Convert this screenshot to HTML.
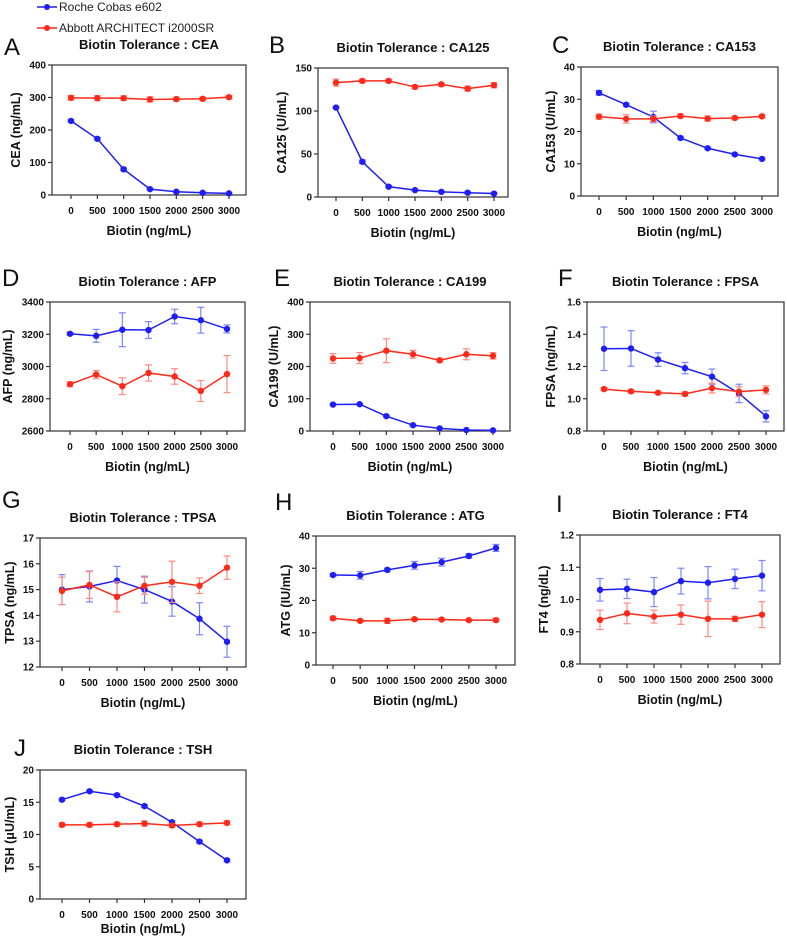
<!DOCTYPE html>
<html><head><meta charset="utf-8"><style>
body{margin:0;background:#fff;}
svg{display:block;font-family:"Liberation Sans",Arial,sans-serif;}
</style></head><body>
<svg id="fig" width="787" height="937" viewBox="0 0 787 937" xmlns="http://www.w3.org/2000/svg">
<g>
 <g>
  <line x1="37" y1="7" x2="57" y2="7" stroke="#1f1ff5" stroke-width="1.5"/><circle cx="47" cy="7" r="3" fill="#1f1ff5"/>
  <text x="59" y="11" font-size="12" fill="#222">Roche Cobas e602</text>
 </g>
 <g>
  <line x1="37" y1="28" x2="57" y2="28" stroke="#ff2a1a" stroke-width="1.5"/><circle cx="47" cy="28" r="3" fill="#ff2a1a"/>
  <text x="59" y="32" font-size="12" fill="#222">Abbott  ARCHITECT i2000SR</text>
 </g>
</g>
</svg>
<script>
const xCats=[0,500,1000,1500,2000,2500,3000];
const aBlue=[228,173,79,18,10,7,5], aBlueErr=[3,4,4,2,2,1,1];
const aRed=[299,298,298,294,295,296,301], aRedErr=[7,8,7,8,6,5,5];
const bBlue=[104,41,12,8,6,5,4], bBlueErr=[1,2,1,1,1,1,1];
const bRed=[133,135,135,128,131,126,130], bRedErr=[4,2,2,2,2,3,3];
const cBlue=[32,28.3,24.5,18,14.8,12.9,11.5], cBlueErr=[0.7,0.4,1.8,0.4,0.3,0.3,0.3];
const cRed=[24.6,23.9,23.9,24.8,24,24.2,24.7], cRedErr=[0.8,1.3,0.9,0.6,0.8,0.5,0.5];
const dBlue=[3203,3190,3228,3226,3310,3287,3233], dBlueErr=[8,40,105,52,45,80,25];
const dRed=[2890,2950,2878,2960,2938,2848,2953], dRedErr=[15,25,52,50,48,65,115];
const eBlue=[82,83,46,18,8,3,2], eBlueErr=[2,2,2,2,1,1,1];
const eRed=[225,226,249,238,219,238,233], eRedErr=[15,17,37,12,6,17,10];
const fBlue=[1.31,1.312,1.243,1.19,1.137,1.033,0.891], fBlueErr=[0.135,0.11,0.042,0.035,0.047,0.057,0.035];
const fRed=[1.06,1.046,1.037,1.03,1.066,1.044,1.055], fRedErr=[0.008,0.008,0.008,0.012,0.03,0.03,0.025];
const gBlue=[15.0,15.12,15.35,15.0,14.54,13.87,12.98], gBlueErr=[0.58,0.6,0.55,0.52,0.57,0.62,0.6];
const gRed=[14.95,15.18,14.72,15.15,15.3,15.15,15.85], gRedErr=[0.53,0.52,0.58,0.33,0.8,0.3,0.45];
const hBlue=[27.9,27.8,29.5,30.9,31.9,33.8,36.3], hBlueErr=[0.4,1.2,0.5,1.2,1.2,0.7,1.1];
const hRed=[14.5,13.7,13.7,14.2,14.1,13.9,13.9], hRedErr=[0.6,0.4,0.8,0.4,0.3,0.3,0.5];
const iBlue=[1.03,1.033,1.023,1.057,1.052,1.064,1.074], iBlueErr=[0.035,0.03,0.045,0.04,0.05,0.03,0.047];
const iRed=[0.937,0.957,0.947,0.953,0.94,0.94,0.953], iRedErr=[0.03,0.032,0.02,0.03,0.055,0.008,0.04];
const jBlue=[15.4,16.7,16.1,14.4,11.9,8.9,6.0], jBlueErr=[0.2,0.2,0.2,0.2,0.2,0.2,0.2];
const jRed=[11.5,11.5,11.6,11.7,11.4,11.6,11.8], jRedErr=[0.3,0.3,0.3,0.4,0.3,0.3,0.3];
const aTicks=[0,100,200,300,400], bTicks=[0,50,100,150], cTicks=[0,10,20,30,40];
const dTicks=[2600,2800,3000,3200,3400], eTicks=[0,100,200,300,400], fTicks=[0.8,1.0,1.2,1.4,1.6];
const gTicks=[12,13,14,15,16,17], hTicks=[0,10,20,30,40], iTicks=[0.8,0.9,1.0,1.1,1.2], jTicks=[0,5,10,15,20];

const panels=[
 {id:'a',L:'A',t:'CEA',yl:'CEA (ng/mL)',l:52,r:246,top:65,bot:195,x0:71,x1:229,ticks:aTicks,dec:0,blue:aBlue,be:aBlueErr,red:aRed,re:aRedErr,lx:4,ly:55,xo:40},
 {id:'b',L:'B',t:'CA125',yl:'CA125 (U/mL)',l:318,r:508,top:68,bot:197,x0:336,x1:494,ticks:bTicks,dec:0,blue:bBlue,be:bBlueErr,red:bRed,re:bRedErr,lx:269,ly:53,xo:40},
 {id:'c',L:'C',t:'CA153',yl:'CA153 (U/mL)',l:581,r:778,top:67,bot:196,x0:599,x1:762,ticks:cTicks,dec:0,blue:cBlue,be:cBlueErr,red:cRed,re:cRedErr,lx:552,ly:53,xo:40},
 {id:'d',L:'D',t:'AFP',yl:'AFP (ng/mL)',l:50,r:245,top:302,bot:431,x0:70,x1:227,ticks:dTicks,dec:0,blue:dBlue,be:dBlueErr,red:dRed,re:dRedErr,lx:2,ly:286,xo:40},
 {id:'e',L:'E',t:'CA199',yl:'CA199 (U/mL)',l:310,r:510,top:302,bot:431,x0:333,x1:493,ticks:eTicks,dec:0,blue:eBlue,be:eBlueErr,red:eRed,re:eRedErr,lx:274,ly:286,xo:40},
 {id:'f',L:'F',t:'FPSA',yl:'FPSA (ng/mL)',l:587,r:784,top:302,bot:431,x0:604,x1:766,ticks:fTicks,dec:1,blue:fBlue,be:fBlueErr,red:fRed,re:fRedErr,lx:558,ly:286,xo:40},
 {id:'g',L:'G',t:'TPSA',yl:'TPSA (ng/mL)',l:40,r:246,top:538,bot:667,x0:62,x1:227,ticks:gTicks,dec:0,blue:gBlue,be:gBlueErr,red:gRed,re:gRedErr,lx:2,ly:508,xo:40},
 {id:'h',L:'H',t:'ATG',yl:'ATG (IU/mL)',l:316,r:515,top:536,bot:665,x0:333,x1:496,ticks:hTicks,dec:0,blue:hBlue,be:hBlueErr,red:hRed,re:hRedErr,lx:275,ly:510,xo:40},
 {id:'i',L:'I',t:'FT4',yl:'FT4 (ng/dL)',l:580,r:780,top:535,bot:664,x0:600,x1:762,ticks:iTicks,dec:1,blue:iBlue,be:iBlueErr,red:iRed,re:iRedErr,lx:556,ly:512,xo:40},
 {id:'j',L:'J',t:'TSH',yl:'TSH (\u03bcU/mL)',l:40,r:246,top:770,bot:899,x0:62,x1:227,ticks:jTicks,dec:0,blue:jBlue,be:jBlueErr,red:jRed,re:jRedErr,lx:14,ly:756,xo:34}
];
const NS='http://www.w3.org/2000/svg';
const svg=document.getElementById('fig');
function mk(tag,attrs,parent){const e=document.createElementNS(NS,tag);for(const k in attrs)e.setAttribute(k,attrs[k]);parent.appendChild(e);return e;}
panels.forEach(p=>{
 const g=mk('g',{},svg);
 
 
 const ymin=p.ticks[0],ymax=p.ticks[p.ticks.length-1];
 const xs=v=>p.x0+(v-xCats[0])/(xCats[xCats.length-1]-xCats[0])*(p.x1-p.x0);
 const ys=v=>p.bot-(v-ymin)/(ymax-ymin)*(p.bot-p.top);
 const cx=(p.l+p.r)/2;
 const lt=mk('text',{x:p.lx,y:p.ly,'font-size':24,fill:'#111'},g);lt.textContent=p.L;
 
 
 const tt=mk('text',{x:cx,y:p.top-16,'font-size':13,'font-weight':'bold','text-anchor':'middle',fill:'#111'},g);tt.textContent='Biotin Tolerance : '+p.t;
 
 
 const fr=mk('rect',{x:p.l,y:p.top,width:p.r-p.l,height:p.bot-p.top,fill:'none',stroke:'#333','stroke-width':1.2},g);
 
 
 let maxc=0;
 p.ticks.forEach(t=>{
  const y=ys(t);
  mk('line',{x1:p.l-4,x2:p.l,y1:y,y2:y,stroke:'#333','stroke-width':1.2},g);
  const s=t.toFixed(p.dec);maxc=Math.max(maxc,s.length);
  const tl=mk('text',{x:p.l-6,y:y+3.5,'font-size':10,'font-weight':'bold','text-anchor':'end',fill:'#111'},g);tl.textContent=s;
  
  
 });
 xCats.forEach(c=>{
  const x=xs(c);
  mk('line',{x1:x,x2:x,y1:p.bot,y2:p.bot+4,stroke:'#333','stroke-width':1.2},g);
  const tl=mk('text',{x:x,y:p.bot+19,'font-size':10,'font-weight':'bold','text-anchor':'middle',fill:'#111'},g);tl.textContent=c;
  
  
 });
 const xl=mk('text',{x:cx,y:p.bot+p.xo,'font-size':12.5,'font-weight':'bold','text-anchor':'middle',fill:'#111'},g);xl.textContent='Biotin (ng/mL)';
 
 
 const yx=p.l-maxc*6-14, ym=(p.top+p.bot)/2;
 const yl=mk('text',{x:yx,y:ym,'font-size':12.5,'font-weight':'bold','text-anchor':'middle',fill:'#111',transform:`rotate(-90 ${yx} ${ym})`},g);yl.textContent=p.yl;
 
 
 [['roche',p.blue,p.be,'#1f1ff5','#7a86ff'],['abbott',p.red,p.re,'#ff2a1a','#ff8a80']].forEach(([nm,vals,errs,col,ecol])=>{
  const sg=mk('g',{},g);
  
  
  vals.forEach((v,i)=>{
   const x=xs(xCats[i]),e=errs[i];
   const y1=ys(v+e),y2=ys(v-e);
   mk('line',{x1:x,x2:x,y1:y1,y2:y2,stroke:ecol,'stroke-width':1.2},sg);
   mk('line',{x1:x-3.5,x2:x+3.5,y1:y1,y2:y1,stroke:ecol,'stroke-width':1.2},sg);
   mk('line',{x1:x-3.5,x2:x+3.5,y1:y2,y2:y2,stroke:ecol,'stroke-width':1.2},sg);
  });
  const pl=mk('polyline',{points:vals.map((v,i)=>xs(xCats[i])+','+ys(v)).join(' '),fill:'none',stroke:col,'stroke-width':1.5},sg);
  
  
  vals.forEach((v,i)=>{
   const c=mk('circle',{cx:xs(xCats[i]),cy:ys(v),r:3.2,fill:col},sg);
   
   
  });
 });
});
</script>
</body></html>
